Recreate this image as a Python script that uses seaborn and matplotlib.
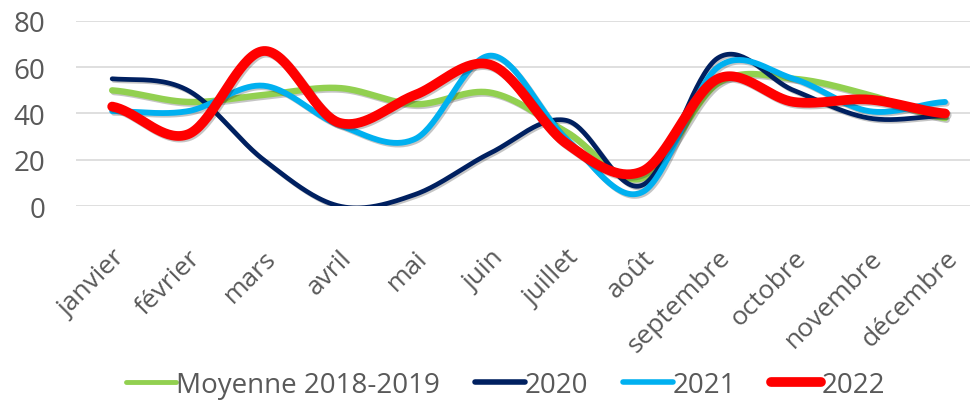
import numpy as np
import pandas as pd
import seaborn as sns
import matplotlib.pyplot as plt
import matplotlib.patheffects as pe
from matplotlib.lines import Line2D

# données
mois = ['janvier', 'février', 'mars', 'avril', 'mai', 'juin', 'juillet',
        'août', 'septembre', 'octobre', 'novembre', 'décembre']
moyenne_2018_2019 = [50, 45, 48, 51, 44, 49, 32, 12, 53, 55, 48, 38]
annee_2020 = [55, 50, 20, 0, 5, 23, 37, 9, 64, 50, 38, 39]
annee_2021 = [41, 41, 52, 35, 29, 65, 29, 6, 60, 55, 41, 45]
annee_2022 = [43, 31, 67, 36, 48, 61, 27, 15, 55, 45, 46, 40]

series = ['Moyenne 2018-2019', '2020', '2021', '2022']
valeurs = [moyenne_2018_2019, annee_2020, annee_2021, annee_2022]
couleurs = ['#92D050', '#002060', '#00B0F0', '#FF0000']
epaisseurs = [4.6, 3.4, 4.2, 7.0]
epaisseurs_legende = [3.5, 4.0, 4.0, 7.0]


def lissage(y, n=40):
    # courbe lissée façon Excel (Bézier de Catmull-Rom)
    y = np.asarray(y, dtype=float)
    p = np.concatenate([[y[0]], y, [y[-1]]])
    xs, ys = [], []
    t = np.linspace(0, 1, n)
    for i in range(len(y) - 1):
        p0, p1, p2, p3 = p[i], p[i + 1], p[i + 2], p[i + 3]
        c1 = p1 + (p2 - p0) / 6
        c2 = p2 - (p3 - p1) / 6
        b = ((1 - t) ** 3 * p1 + 3 * (1 - t) ** 2 * t * c1
             + 3 * (1 - t) * t ** 2 * c2 + t ** 3 * p2)
        xs.append(i + t)
        ys.append(b)
    return np.concatenate(xs), np.concatenate(ys)


sns.set_theme(style='white')
plt.rcParams['font.family'] = ['Open Sans', 'DejaVu Sans']

fig = plt.figure(figsize=(9.72, 4.06), dpi=100)
ax = fig.add_axes([0.078, 0.49, 0.92, 0.456])

for nom, v, c, lw in zip(series, valeurs, couleurs, epaisseurs):
    xs, ys = lissage(v)
    df = pd.DataFrame({'x': xs, 'y': ys})
    sns.lineplot(data=df, x='x', y='y', ax=ax, color=c, lw=lw,
                 solid_capstyle='round', sort=False,
                 path_effects=[pe.SimpleLineShadow(offset=(1.2, -1.2), alpha=0.25),
                               pe.Normal()])

ax.set_ylim(0, 80)
ax.set_xlim(-0.48, 11.33)
ax.set_yticks([0, 20, 40, 60, 80])
ax.set_xticks(range(len(mois)))
ax.set_xticklabels(mois, rotation=45, ha='right', rotation_mode='anchor')
ax.set_xlabel('')
ax.set_ylabel('')
ax.yaxis.grid(True, color='#D9D9D9', lw=1.2)
ax.xaxis.grid(False)
for s in ax.spines.values():
    s.set_visible(False)
ax.tick_params(axis='y', length=0, colors='#595959', labelsize=20, pad=22)
ax.tick_params(axis='x', length=0, colors='#595959', labelsize=19, pad=28)

poignees = [Line2D([], [], color=c, lw=lw, solid_capstyle='round')
            for c, lw in zip(couleurs, epaisseurs_legende)]
fig.legend(poignees, series, loc='center', bbox_to_anchor=(0.52, 0.05),
           ncol=4, frameon=False, fontsize=20, labelcolor='#595959',
           handlelength=1.8, handletextpad=0.0, columnspacing=1.25)

fig.savefig('out.png', dpi=100)
